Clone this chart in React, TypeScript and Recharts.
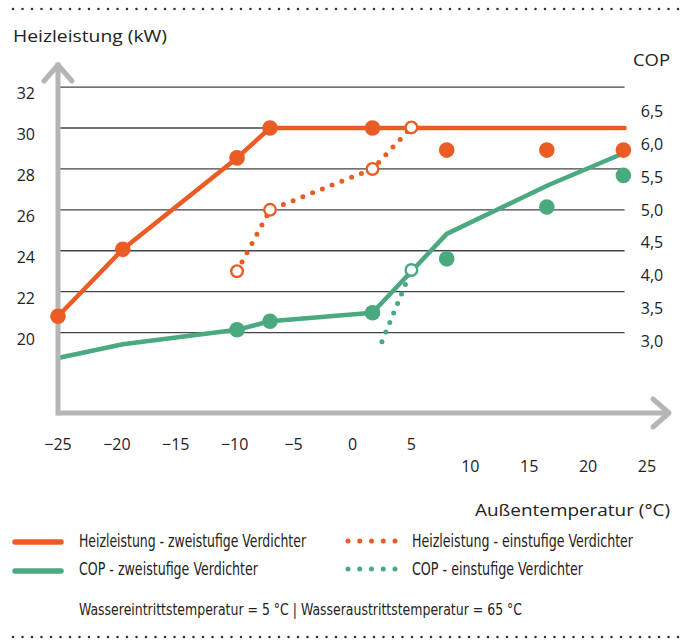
import { ComposedChart, Line, Scatter, XAxis, YAxis, ReferenceLine } from 'recharts';

// Außentemperatur (°C) -> Heizleistung (kW), zweistufige Verdichter
const heat2Temps = [-25, -19.5, -9.8, -7, 1.7, 23.1];
const heat2Values = [20.8, 24.07, 28.54, 30.0, 30.0, 30.0];
const heat2MarkTemps = [-25, -19.5, -9.8, -7, 1.7, 8, 16.5, 23];
const heat2MarkValues = [20.8, 24.07, 28.54, 30.0, 30.0, 28.92, 28.92, 28.92];

// Heizleistung, einstufige Verdichter
const heat1Temps = [-9.8, -7, 1.7, 5];
const heat1Values = [23.0, 26.0, 28.0, 30.03];

// COP, zweistufige Verdichter
const cop2Temps = [-25, -19.5, -9.8, -7, 1.7, 8, 16.6, 22.9];
const cop2Values = [2.74, 2.95, 3.17, 3.3, 3.43, 4.63, 5.37, 5.85];
const cop2MarkTemps = [-9.8, -7, 1.7, 8, 16.5, 23];
const cop2MarkValues = [3.17, 3.3, 3.43, 4.25, 5.04, 5.52];

// COP, einstufige Verdichter
const cop1Temps = [2.5, 5];
const cop1Values = [2.99, 4.08];
const cop1OpenTemps = [5];
const cop1OpenValues = [4.08];

const xTicks = [-25, -20, -15, -10, -5, 0, 5, 10, 15, 20, 25];
const kwTicks = [20, 22, 24, 26, 28, 30, 32];
const copTicks = [3, 3.5, 4, 4.5, 5, 5.5, 6, 6.5];

const ORANGE = '#eb5b24';
const GREEN = '#4aa97f';
const AXIS_GRAY = '#b5b5b5';
const TEXT = '#222';
const TICK_FONT = "'Open Sans', sans-serif";
const LEGEND_FONT = "'Liberation Sans Narrow', 'DejaVu Sans Condensed', Roboto, sans-serif";

const zip = (ts: number[], vs: number[]) => ts.map((t, i) => ({ t, v: vs[i] }));

const heat2 = zip(heat2Temps, heat2Values);
const heat2Marks = zip(heat2MarkTemps, heat2MarkValues);
const heat1 = zip(heat1Temps, heat1Values);
const cop2 = zip(cop2Temps, cop2Values);
const cop2Marks = zip(cop2MarkTemps, cop2MarkValues);
const cop1 = zip(cop1Temps, cop1Values);
const cop1Open = zip(cop1OpenTemps, cop1OpenValues);

const GRID_FROM = -24.85;
const GRID_TO = 23.1;

const filledDot = (color: string) => (p: any) => (
  <circle cx={p.cx} cy={p.cy} r={7.8} fill={color} />
);
const openDot = (color: string) => (p: any) => (
  <circle cx={p.cx} cy={p.cy} r={5.8} fill="#fff" stroke={color} strokeWidth={2.4} />
);

const XTick = (p: any) => {
  const v = p.payload.value;
  const low = v >= 10;
  return (
    <text x={p.x} y={p.y + (low ? 59 : 37)} textAnchor="middle" fontFamily={TICK_FONT} fontSize={16} fill={TEXT}>
      {v < 0 ? '\u2212' + Math.abs(v) : String(v)}
    </text>
  );
};

const KwTick = (p: any) => (
  <text x={p.x - 23} y={p.y + 12} textAnchor="end" fontFamily={TICK_FONT} fontSize={16} fill={TEXT}>
    {p.payload.value}
  </text>
);

const CopTick = (p: any) => (
  <text x={p.x - 17} y={p.y + 6} textAnchor="middle" fontFamily={TICK_FONT} fontSize={16} fill={TEXT}>
    {p.payload.value.toFixed(1).replace('.', ',')}
  </text>
);

const Overlay = () => (
  <svg width={689} height={643} style={{ position: 'absolute', left: 0, top: 0, pointerEvents: 'none' }}>
    <line x1={13} x2={680} y1={9} y2={9} stroke="#333" strokeWidth={2.6} strokeLinecap="round" strokeDasharray="0 9.5" />
    <line x1={13} x2={680} y1={637} y2={637} stroke="#333" strokeWidth={2.6} strokeLinecap="round" strokeDasharray="0 9.5" />

    <text x={13} y={42} fontFamily={TICK_FONT} fontSize={16.5} fill={TEXT} textLength={154} lengthAdjust="spacingAndGlyphs">Heizleistung (kW)</text>
    <text x={633} y={66} fontFamily={TICK_FONT} fontSize={16.5} fill={TEXT} textLength={37} lengthAdjust="spacingAndGlyphs">COP</text>
    <text x={475} y={516} fontFamily={TICK_FONT} fontSize={16.5} fill={TEXT} textLength={195} lengthAdjust="spacingAndGlyphs">Außentemperatur (°C)</text>

    <line x1={15} x2={61} y1={542} y2={542} stroke={ORANGE} strokeWidth={5.5} strokeLinecap="round" />
    <line x1={15} x2={61} y1={571} y2={571} stroke={GREEN} strokeWidth={5.5} strokeLinecap="round" />
    <line x1={348} x2={396} y1={541} y2={541} stroke={ORANGE} strokeWidth={5} strokeLinecap="round" strokeDasharray="0 11.75" />
    <line x1={348} x2={396} y1={569} y2={569} stroke={GREEN} strokeWidth={5} strokeLinecap="round" strokeDasharray="0 11.75" />

    <g fontFamily={LEGEND_FONT} fontSize={17} fill={TEXT}>
      <text x={79} y={547} textLength={227} lengthAdjust="spacingAndGlyphs">Heizleistung - zweistufige Verdichter</text>
      <text x={79} y={575} textLength={179} lengthAdjust="spacingAndGlyphs">COP - zweistufige Verdichter</text>
      <text x={412} y={547} textLength={221} lengthAdjust="spacingAndGlyphs">Heizleistung - einstufige Verdichter</text>
      <text x={412} y={575} textLength={171} lengthAdjust="spacingAndGlyphs">COP - einstufige Verdichter</text>
      <text x={79} y={615} fontSize={16} textLength={443} lengthAdjust="spacingAndGlyphs">Wassereintrittstemperatur = 5 °C | Wasseraustrittstemperatur = 65 °C</text>
    </g>
  </svg>
);

export default function App() {
  return (
    <div style={{ position: 'absolute', left: 0, top: 0, width: 689, height: 643, background: '#fff' }}>
      <ComposedChart width={689} height={643} margin={{ top: 65, right: 0, bottom: 200, left: 0 }}>
        <defs>
          <marker id="axisArrow" markerWidth={40} markerHeight={40} refX={20} refY={20} orient="auto-start-reverse" markerUnits="userSpaceOnUse">
            <path d="M4,6 L20,20 L4,34" fill="none" stroke={AXIS_GRAY} strokeWidth={5} strokeLinecap="round" strokeLinejoin="round" />
          </marker>
        </defs>
        <XAxis
          dataKey="t"
          type="number"
          domain={[-25, 26.87]}
          ticks={xTicks}
          height={30}
          tickSize={0}
          tickMargin={0}
          tickLine={false}
          tick={<XTick />}
          axisLine={{ stroke: AXIS_GRAY, strokeWidth: 5, markerEnd: 'url(#axisArrow)' }}
        />
        <YAxis
          yAxisId="kw"
          dataKey="v"
          type="number"
          domain={[16.07, 33.08]}
          ticks={kwTicks}
          width={58}
          tickSize={0}
          tickMargin={0}
          tickLine={false}
          tick={<KwTick />}
          axisLine={{ stroke: AXIS_GRAY, strokeWidth: 5, strokeLinecap: 'square', markerStart: 'url(#axisArrow)' }}
        />
        <YAxis
          yAxisId="cop"
          orientation="right"
          dataKey="v"
          type="number"
          domain={[1.904, 7.2]}
          ticks={copTicks}
          width={20}
          tickSize={0}
          tickMargin={0}
          tickLine={false}
          axisLine={false}
          tick={<CopTick />}
        />
        {kwTicks.map((k) => (
          <ReferenceLine
            key={k}
            yAxisId="kw"
            segment={[{ x: GRID_FROM, y: k }, { x: GRID_TO, y: k }]}
            stroke="#444"
            strokeWidth={1.3}
            zIndex={-50}
          />
        ))}

        <Line yAxisId="cop" data={cop2} dataKey="v" stroke={GREEN} strokeWidth={4.5} dot={false} strokeLinejoin="round" isAnimationActive={false} />
        <Line yAxisId="cop" data={cop1} dataKey="v" stroke={GREEN} strokeWidth={5} strokeLinecap="round" strokeDasharray="0 10.3" dot={false} isAnimationActive={false} />
        <Line yAxisId="kw" data={heat2} dataKey="v" stroke={ORANGE} strokeWidth={4.5} strokeLinecap="round" strokeLinejoin="round" dot={false} isAnimationActive={false} />
        <Line yAxisId="kw" data={heat1} dataKey="v" stroke={ORANGE} strokeWidth={5} strokeLinecap="round" strokeDasharray="0 10.5" dot={false} isAnimationActive={false} />

        <Scatter yAxisId="cop" data={cop2Marks} dataKey="v" shape={filledDot(GREEN)} isAnimationActive={false} />
        <Scatter yAxisId="cop" data={cop1Open} dataKey="v" shape={openDot(GREEN)} isAnimationActive={false} />
        <Scatter yAxisId="kw" data={heat2Marks} dataKey="v" shape={filledDot(ORANGE)} isAnimationActive={false} />
        <Scatter yAxisId="kw" data={heat1} dataKey="v" shape={openDot(ORANGE)} isAnimationActive={false} />
      </ComposedChart>
      <Overlay />
    </div>
  );
}
